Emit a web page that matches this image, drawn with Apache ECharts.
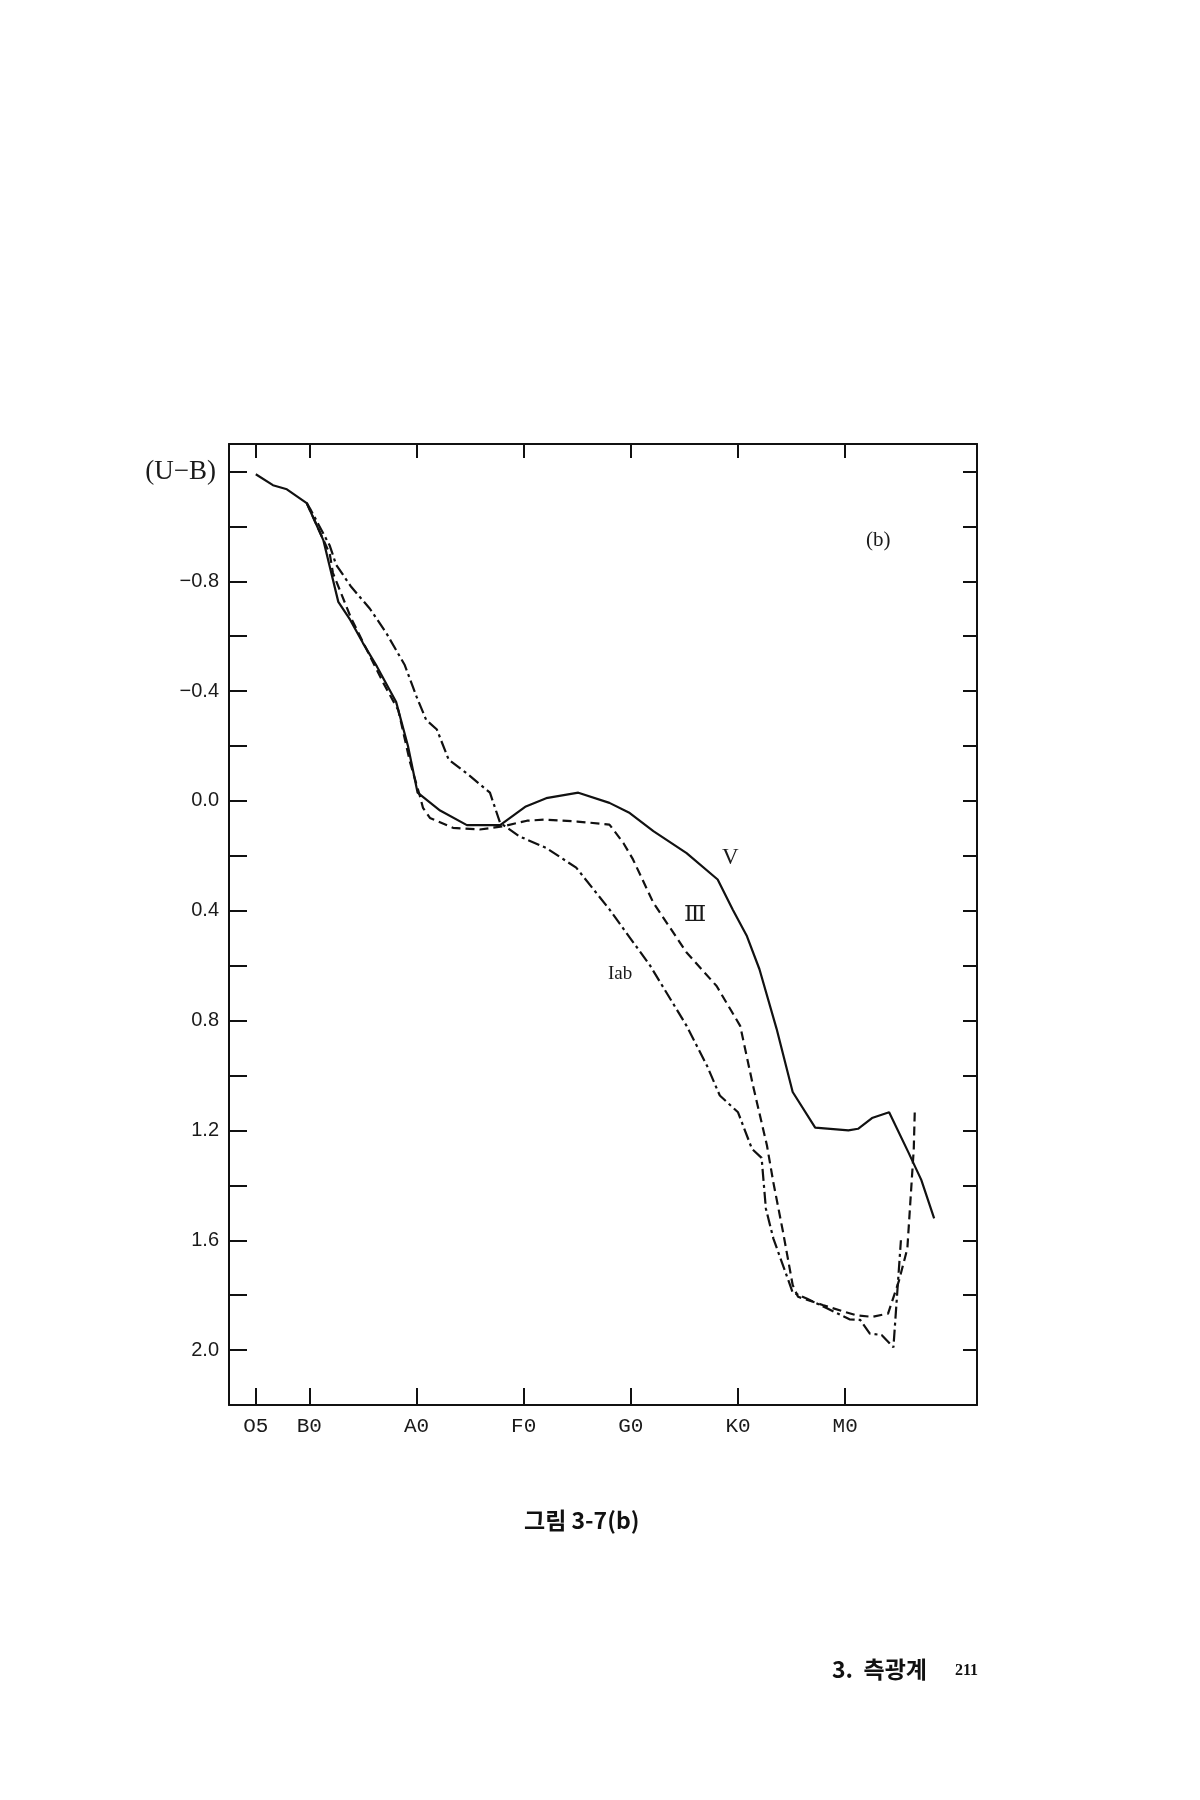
<!DOCTYPE html>
<html>
<head>
<meta charset="utf-8">
<script src="https://cdn.jsdelivr.net/npm/echarts@6/dist/echarts.min.js"></script>
<style>
html,body{margin:0;padding:0;background:#ffffff;}
#chart{width:1200px;height:1800px;}
</style>
</head>
<body>
<div id="chart"></div>
<script>
// Spectral-type axis: O0=0, B0=10, A0=20, F0=30, G0=40, K0=50, M0=60
const xTickValues = [5, 10, 20, 30, 40, 50, 60];
const xTickLabels = ['O5', 'B0', 'A0', 'F0', 'G0', 'K0', 'M0'];
const yTickValues = [-1.2, -1.0, -0.8, -0.6, -0.4, -0.2, 0.0, 0.2, 0.4, 0.6, 0.8, 1.0, 1.2, 1.4, 1.6, 1.8, 2.0];
const yLabelValues = [-1.2, -0.8, -0.4, 0.0, 0.4, 0.8, 1.2, 1.6, 2.0];

// Luminosity class V (solid)
const seriesV = [
  [5.0,-1.19],[6.6,-1.15],[7.9,-1.135],[9.75,-1.085],[11.3,-0.95],[12.7,-0.725],
  [13.8,-0.66],[15.0,-0.575],[16.3,-0.49],[18.1,-0.36],[19.2,-0.2],[20.1,-0.03],
  [22.2,0.035],[24.7,0.088],[27.8,0.088],[30.2,0.02],[32.1,-0.01],[35.1,-0.03],
  [38.0,0.007],[39.9,0.044],[42.1,0.11],[45.2,0.19],[48.1,0.286],[49.5,0.395],
  [50.8,0.49],[52.0,0.613],[53.6,0.83],[55.1,1.06],[57.2,1.19],[60.3,1.20],
  [61.2,1.194],[62.5,1.155],[64.1,1.134],[65.9,1.28],[67.1,1.38],[68.3,1.52]
];
// Luminosity class III (dashed)
const seriesIII = [
  [9.75,-1.085],[11.9,-0.9],[12.2,-0.83],[13.9,-0.665],[16.9,-0.43],[18.3,-0.33],
  [19.4,-0.14],[20.3,-0.02],[20.6,0.025],[21.25,0.062],[23.4,0.098],[25.9,0.104],
  [28.1,0.092],[30.3,0.072],[32.0,0.068],[35.0,0.075],[38.0,0.086],[39.3,0.153],
  [40.2,0.213],[42.1,0.371],[45.2,0.552],[48.0,0.674],[50.2,0.819],[51.4,1.037],
  [52.7,1.255],[53.3,1.39],[54.2,1.57],[55.1,1.763],[55.6,1.806],[57.9,1.836],
  [61.0,1.873],[62.5,1.879],[64.0,1.867],[65.0,1.75],[65.8,1.63],[66.4,1.267],[66.5,1.12]
];
// Luminosity class Iab (dash-dot)
const seriesIab = [
  [9.75,-1.085],[10.06,-1.065],[11.9,-0.93],[12.5,-0.86],[13.9,-0.78],[15.65,-0.70],
  [17.2,-0.61],[18.9,-0.495],[20.0,-0.38],[20.9,-0.295],[21.9,-0.26],[23.0,-0.15],
  [24.7,-0.10],[26.85,-0.03],[27.8,0.08],[29.6,0.129],[32.1,0.171],[34.9,0.243],
  [38.0,0.395],[41.8,0.60],[45.2,0.819],[47.1,0.964],[48.3,1.073],[50.0,1.134],
  [51.3,1.267],[52.2,1.30],[52.6,1.485],[53.3,1.594],[55.1,1.79],[56.4,1.812],
  [58.3,1.848],[60.4,1.888],[61.4,1.89],[62.3,1.94],[63.4,1.945],[64.5,1.99],[65.2,1.6]
];

const ink = '#111111';
const chart = echarts.init(document.getElementById('chart'), null, {renderer: 'canvas'});

function yFmt(v) {
  if (Math.abs(v + 1.2) < 1e-6) return '{ub|(U\u2212B)}';
  const s = Math.abs(v).toFixed(1);
  return v < -1e-9 ? '\u2212' + s : s;
}
function xFmt(v) {
  const i = xTickValues.findIndex(t => Math.abs(t - v) < 1e-6);
  return i >= 0 ? xTickLabels[i] : '';
}

const option = {
  backgroundColor: '#ffffff',
  animation: false,
  grid: {left: 229, right: 223, top: 444, bottom: 395, containLabel: false},
  xAxis: [
    {
      type: 'value', position: 'bottom', min: 2.5, max: 72.3,
      axisLine: {show: true, onZero: false, lineStyle: {color: ink, width: 2}},
      axisTick: {show: true, inside: true, length: 17, customValues: xTickValues, lineStyle: {color: ink, width: 2}},
      axisLabel: {show: true, customValues: xTickValues, formatter: xFmt, margin: 11,
        fontFamily: 'Liberation Mono', fontSize: 21, color: '#1a1a1a'},
      splitLine: {show: false}
    },
    {
      type: 'value', position: 'top', min: 2.5, max: 72.3,
      axisLine: {show: true, onZero: false, lineStyle: {color: ink, width: 2}},
      axisTick: {show: true, inside: true, length: 14, customValues: xTickValues, lineStyle: {color: ink, width: 2}},
      axisLabel: {show: false},
      splitLine: {show: false}
    }
  ],
  yAxis: [
    {
      type: 'value', position: 'left', inverse: true, min: -1.3, max: 2.2,
      axisLine: {show: true, onZero: false, lineStyle: {color: ink, width: 2}},
      axisTick: {show: true, inside: true, length: 18, customValues: yTickValues, lineStyle: {color: ink, width: 2}},
      axisLabel: {show: true, customValues: yLabelValues, formatter: yFmt, margin: 10,
        fontFamily: 'Liberation Sans', fontSize: 20, color: '#1a1a1a',
        rich: {ub: {fontFamily: 'Liberation Serif', fontSize: 27, color: '#1a1a1a', padding: [0, 3, 0, 0]}}},
      splitLine: {show: false}
    },
    {
      type: 'value', position: 'right', inverse: true, min: -1.3, max: 2.2,
      axisLine: {show: true, onZero: false, lineStyle: {color: ink, width: 2}},
      axisTick: {show: true, inside: true, length: 14, customValues: yTickValues, lineStyle: {color: ink, width: 2}},
      axisLabel: {show: false},
      splitLine: {show: false}
    }
  ],
  series: [
    {name: 'V', type: 'line', xAxisIndex: 0, yAxisIndex: 0, data: seriesV, showSymbol: false,
      lineStyle: {color: ink, width: 2.2, type: 'solid'}},
    {name: 'III', type: 'line', xAxisIndex: 0, yAxisIndex: 0, data: seriesIII, showSymbol: false,
      lineStyle: {color: ink, width: 2.2, type: [9, 5]}},
    {name: 'Iab', type: 'line', xAxisIndex: 0, yAxisIndex: 0, data: seriesIab, showSymbol: false,
      lineStyle: {color: ink, width: 2.2, type: [12, 4, 3, 4]}}
  ],
  graphic: [
    {type: 'text', left: 866, top: 530, style: {text: '(b)', font: '21px "Liberation Serif"', fill: '#1a1a1a'}},
    {type: 'text', left: 722, top: 846, style: {text: 'V', font: '23px "Liberation Serif"', fill: '#1a1a1a'}},
    {type: 'text', left: 684, top: 904, style: {text: '\u2162', font: '23px "DejaVu Serif", "Noto Sans CJK KR"', fill: '#1a1a1a'}},
    {type: 'text', left: 608, top: 965, style: {text: 'Iab', font: '19px "Liberation Serif"', fill: '#1a1a1a'}},
    {type: 'text', left: 524, top: 1509, style: {text: '그림 3-7(b)', font: 'bold 23px "Noto Sans CJK KR"', fill: '#111'}},
    {type: 'text', left: 832, top: 1658, style: {text: '3.  측광계', font: 'bold 23px "Noto Sans CJK KR"', fill: '#111'}},
    {type: 'text', left: 955, top: 1663, style: {text: '211', font: 'bold 16px "Liberation Serif"', fill: '#111'}}
  ]
};
chart.setOption(option);
</script>
</body>
</html>
